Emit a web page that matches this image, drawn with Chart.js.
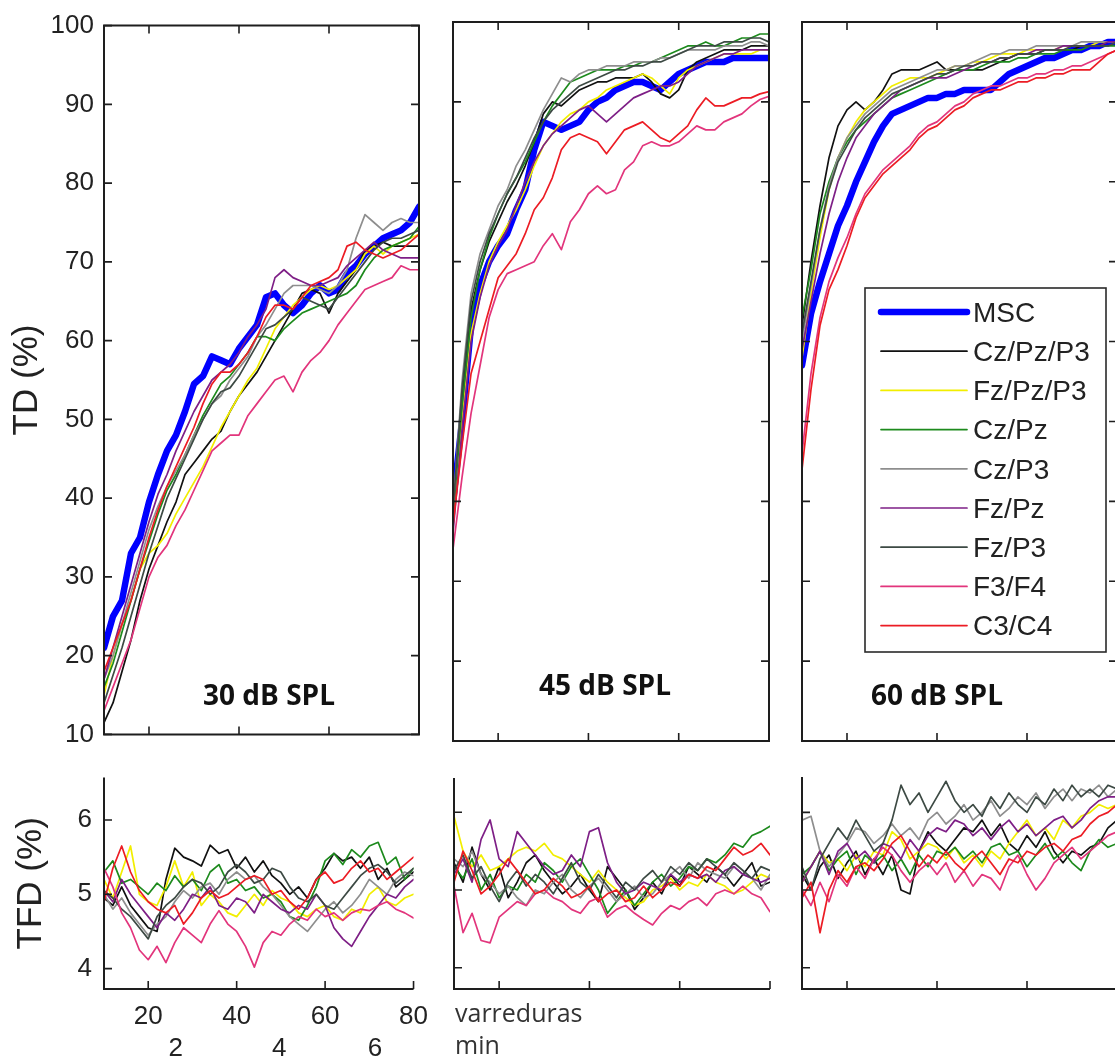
<!DOCTYPE html>
<html><head><meta charset="utf-8">
<script src="https://cdn.jsdelivr.net/npm/chart.js@4.4.1/dist/chart.umd.min.js"></script>
<style>
html,body{margin:0;padding:0;background:#fff;width:1115px;height:1063px;overflow:hidden;position:relative;}
canvas{position:absolute;}
</style></head><body>
<canvas id="t1" width="440" height="760" style="left:0;top:0"></canvas>
<canvas id="t2" width="340" height="760" style="left:440px;top:0"></canvas>
<canvas id="t3" width="340" height="760" style="left:790px;top:0"></canvas>
<canvas id="b1" width="440" height="313" style="left:0;top:750px"></canvas>
<canvas id="b2" width="340" height="313" style="left:440px;top:750px"></canvas>
<canvas id="b3" width="340" height="313" style="left:790px;top:750px"></canvas>
<script>
// ---------- DATA ----------
const sweeps = [10,12,14,16,18,20,22,24,26,28,30,32,34,36,38,40,42,44,46,48,50,52,54,56,58,60,62,64,66,68,70,72,74,76,78,80];
const sweepTicks = [20,40,60,80];
const minuteTickSweeps = [26.2,49.6,71.3];
const minuteLabels = ['2','4','6'];
const tdTicks = [10,20,30,40,50,60,70,80,90,100];
const tfdTicks = [4,5,6];
const seriesNames = ['MSC','Cz/Pz/P3','Fz/Pz/P3','Cz/Pz','Cz/P3','Fz/Pz','Fz/P3','F3/F4','C3/C4'];
const panelTitles = ['30 dB SPL','45 dB SPL','60 dB SPL'];

// TD (%) 30 dB SPL
const td30_MSC    = [21,25,27,33,35,39.5,43,46,48,51,54.5,55.5,58,57.5,57,59,60.5,62,65.5,66,64.5,63.5,64.5,66,67,66,66.5,68.5,69.5,71,72,73,73.5,74,75,77];
const td30_CzPzP3 = [11.5,14,18,22,27,31,34,37,39.5,43,44.5,46,47.5,48.5,51,53,54.5,56,58,60,62,64,66,66.5,66,63.5,66,67.5,69,71.5,72,72.5,72,72,72,72];
const td30_FzPzP3 = [15,20,24,27,31,33,34,35.5,38,40,42,44,46.5,49,51,53,55,56.5,59,61.5,63,64.5,65.5,66.5,67,66.5,67,68,69,71,72,71,72,72.5,73,73.5];
const td30_CzPz   = [16,19,23,27,31,34.5,38,41,43,45.5,48,50.5,52.5,54.5,55.5,57,58.5,60.5,60.5,60,61.5,62.5,63.5,64,64.5,65,65.5,66,67,69,70.5,71.5,72,72.5,73,74.5];
const td30_CzP3   = [17,20,24,28,32,36,39,41.5,43.5,45.5,48,50,52,53,55,56.5,58,60.5,62,64,66,67,67,67,66.5,66,67,69,73,76,75,74,75,75.5,75,75];
const td30_FzPz   = [17,21,25,29,33,37,40.5,43,46,48.5,51,53,55,56,57,58.5,60.5,62,64,68,69,68,67.5,67,67,67.5,68,69.5,70.5,71.5,72.5,71.5,71,70.5,70.5,70.5];
const td30_FzP3   = [14,17.5,21,25,29,33,36.5,40,42.5,45,47.5,50,52,53.5,54,55.5,57.5,59.5,61.5,62,63,64,65.5,65,64.5,64,65.5,67,68.5,70,71.5,72.5,73,73,73.5,74];
const td30_F3F4   = [13,16,19,22,26,30,32.5,34,36.5,38.5,41,43.5,46,47,48,48,50.5,52,53.5,55,55.5,53.5,56,57.5,58.5,60,62,63.5,65,66.5,67,67.5,68,69.5,69,69];
const td30_C3C4   = [18,21,24,27,31,35,38.5,41.5,44,46.5,49,52,54.5,56,56,57,58.5,60.5,63,64.5,64.5,64,65.5,67,67.5,68,69,72,72.5,71.5,71,70.5,71,71.5,72.5,73.5];

// TD (%) 45 dB SPL
const td45_MSC    = [40,50,62,67,70,72,73.5,76.5,79,84,87.5,87,86.5,87,87.5,89,90,90.5,91.5,92,92.5,92.5,92,91.5,92.5,93.5,94,94.5,95,95,95,95.5,95.5,95.5,95.5,95.5];
const td45_CzPzP3 = [38,53,64,69,72.5,75,77.5,79.5,82,85,88.5,90,89.5,90.5,91.5,92,92.5,92.5,93,93,93,93.5,92.5,91,90.5,91.5,94,95,95.5,96,96.5,96.5,96.5,97,97,97];
const td45_FzPzP3 = [37,50,61,66,70,72.5,74.5,76.5,79,82,84.5,86,87.5,88.5,89,90,90.5,91.5,92,92.5,93,93.5,93,92,91,93,94,94.5,95,95.5,96,96,96,96,96.5,96.5];
const td45_CzPz   = [38,52,63,69,73,76,78.5,80.5,82.5,85,87.5,89.5,91,92.5,93,93.5,94,94,94,94.5,94.5,95,95,95.5,96,96.5,97,97,97.5,97,97,97.5,98,98,98.5,98.5];
const td45_CzP3   = [39,55,66,71,74,77,79,82,84,86.5,89,91,93,92.5,93.5,94,94,94.5,94.5,94.5,95,95,95,95.5,95.5,96,96.5,96.5,96.5,96.5,97,97,97,97.5,97.5,97];
const td45_FzPz   = [36,49,60,65.5,69.5,72,74,77,80,82.5,84.5,86,87,88,89,89.5,88.5,87.5,88.5,89.5,90.5,91,91.5,92,92,92.5,93.5,94.5,95,95.5,96,96,96.5,96.5,96.5,96.5];
const td45_FzP3   = [39,54,65,70,73.5,76,78.5,80.5,83,85.5,87.5,89,90,91,92,92.5,93,93.5,94,94,94.5,94.5,95,95,95.5,96,96.5,97,97,97,97.5,97.5,97.5,98,98,97.5];
const td45_F3F4   = [34,43,51,57,63,66.5,68.5,69,69.5,70,72,73.5,71.5,75,76.5,78.5,79.5,78.5,79,81.5,82.5,84.5,85,84.5,84.5,85,86,87,86.5,86.5,87.5,88,88.5,89.5,90.3,90.7];
const td45_C3C4   = [37,47,56,60,64,68,69.5,71,73.5,76.5,78,80.5,84,85.5,86,85.5,85,83.5,85,86.5,87,87.5,86.5,85.5,85,86,87,89,90.5,89.5,89.5,90,90.5,90.5,91,91.3];

// TD (%) 60 dB SPL
const td60_MSC    = [57,63.5,67.5,71,74.5,77,80,82.5,85,87,88.5,89,89.5,90,90.5,90.5,91,91,91.5,91.5,91.5,91.5,92.5,93.5,94,94.5,95,95.5,95.5,96,96.5,96.5,97,97,97.5,97.5];
const td60_CzPzP3 = [62,70,77,83,87,89,90,89,90,91.5,93.5,94,94,94,94.5,95,94,94,94,94,94,94.5,95,95.5,96,96,96,96.5,96.5,96.5,96.5,97,97,97,97.5,97.5];
const td60_FzPzP3 = [58,66,73,79,83,85.5,87.5,89,90,91,92,92.5,93,93,93,93.5,94,94.5,94.5,95,95,95.5,96,96,96,96.5,96.5,96.5,96.5,97,97,97,97,97.5,97.5,97.5];
const td60_CzPz   = [63,69,76,80,83,85,86.5,87.5,88.5,89.5,90.5,91,91.5,92,92.5,93,93.5,94,94,94,94.5,95,95,95,95.5,95.5,96,96,96,96.5,96.5,96.5,97,97,97,97];
const td60_CzP3   = [60,67,74,79.5,83,85.5,87,88.5,89.5,90.5,91.5,92,92.5,93,93.5,94,94,94.5,94.5,95,95.5,96,96,96.5,96.5,96.5,97,97,97,97,97,97.5,97.5,97.5,97.5,97.5];
const td60_FzPz   = [59,65,71,76,80,83,85.5,87,88.5,89.5,90.5,91.5,92,92.5,93,93,93,93.5,94,94.5,95,95,95.5,95.5,96,96,96.5,96.5,96.5,97,97,97,97,97,97.5,97.5];
const td60_FzP3   = [61,67.5,74,79,82.5,84.5,86.5,88,89,90,91,91.5,92,92.5,93,93.5,93.5,94,94.5,94.5,95,95,95.5,95.5,96,96,96,96.5,96.5,96.5,97,97,97,97,97,97.5];
const td60_F3F4   = [46,56,63,67.5,70.5,73,76,78.5,80,81.5,82.5,83.5,84.5,86,87,87.5,88.5,89.5,90,91,91.5,92,92,92.5,93,93,93.5,93.5,94,94,94.5,94.5,95,95.5,96,96.5];
const td60_C3C4   = [44,54,62,66.5,69,72,75.5,78,79.5,81,82,83,84,85.5,86.5,87,88,89,89.5,90.5,91,91.5,91.5,92,92.5,92.5,93,93,93.5,93.5,94,94,94,95,96,96.5];

// TFD (%) 30 dB SPL
const tfd30_CzPzP3 = [4.95,4.85,5.1,4.85,4.7,4.55,4.5,5.2,5.62,5.5,5.45,5.38,5.66,5.55,5.6,5.35,5.5,5.3,5.45,5.25,5.15,5.0,5.1,4.95,5.2,5.35,5.55,5.45,5.5,5.35,5.5,5.2,5.35,5.1,5.2,5.3];
const tfd30_FzPzP3 = [5.2,4.95,5.3,5.65,5.0,4.9,4.85,5.1,5.45,5.1,5.3,4.85,5.0,4.9,4.75,4.7,4.85,5.0,4.85,5.05,4.95,4.9,4.75,4.7,4.8,4.85,4.7,4.65,4.8,4.75,5.0,5.1,4.9,4.85,4.95,5.0];
const tfd30_CzPz   = [5.3,5.45,5.15,5.2,5.1,5.0,5.15,5.05,5.25,5.1,5.2,5.05,5.3,5.4,5.15,5.2,5.05,5.1,4.95,5.0,4.9,4.7,4.65,4.85,5.1,5.45,5.55,5.4,5.6,5.5,5.65,5.7,5.4,5.5,5.2,5.35];
const tfd30_CzP3   = [5.0,4.8,4.95,4.75,4.6,4.45,4.6,4.7,4.9,5.05,4.95,5.1,5.15,5.0,5.2,5.3,5.2,5.25,5.1,5.0,4.85,4.7,4.6,4.5,4.65,4.8,4.9,4.75,4.85,5.0,5.2,5.1,5.0,5.2,5.3,5.25];
const tfd30_FzPz   = [5.05,4.9,5.2,5.0,4.85,4.7,4.55,4.75,4.65,4.8,5.0,4.95,5.1,4.85,4.8,4.95,4.9,4.75,5.0,4.9,4.8,4.75,4.85,4.8,5.0,4.85,4.55,4.4,4.3,4.5,4.7,4.85,5.0,4.95,5.1,5.2];
const tfd30_FzP3   = [5.05,4.95,4.8,4.7,4.55,4.4,4.7,4.85,4.95,5.1,5.2,5.15,5.0,5.1,5.3,5.4,5.3,5.15,5.2,5.35,5.3,5.1,4.95,4.9,5.0,4.85,4.8,4.95,5.1,5.25,5.35,5.4,5.3,5.15,5.25,5.35];
const tfd30_F3F4   = [5.35,5.1,4.75,4.55,4.25,4.12,4.3,4.08,4.35,4.55,4.45,4.35,4.6,4.78,4.6,4.5,4.3,4.02,4.35,4.5,4.45,4.6,4.7,4.65,4.8,4.7,4.75,4.65,4.75,4.8,4.78,4.85,4.9,4.8,4.75,4.68];
const tfd30_C3C4   = [4.9,5.35,5.65,5.3,5.05,4.9,4.8,4.75,4.85,4.6,4.75,4.95,5.05,4.95,5.0,5.1,5.2,5.25,5.2,5.0,5.05,4.9,4.8,4.95,5.2,5.3,5.15,5.2,5.35,5.45,5.3,5.35,5.2,5.3,5.4,5.5];

// TFD (%) 45 dB SPL
const tfd45_CzPzP3 = [5.35,5.1,5.55,5.2,5.0,5.3,4.9,5.1,5.35,5.45,5.25,5.1,4.95,5.05,5.2,5.0,4.85,5.3,5.15,5.0,4.75,4.9,5.1,4.95,5.2,5.05,5.3,5.2,5.1,5.3,5.2,5.05,5.2,5.35,5.05,5.1];
const tfd45_FzPzP3 = [5.95,5.5,5.3,5.45,5.25,5.3,5.4,5.5,5.55,5.5,5.6,5.45,5.4,5.3,5.2,5.1,5.25,5.1,5.0,4.9,4.8,4.85,5.0,5.05,5.15,5.0,5.1,5.05,5.2,5.1,5.05,4.95,5.0,5.1,5.2,5.15];
const tfd45_CzPz   = [5.3,5.15,5.4,5.0,5.2,4.9,5.05,5.0,5.2,5.1,5.35,5.25,5.1,5.3,5.4,5.2,5.0,4.7,4.85,5.0,4.8,4.95,5.1,5.2,5.05,5.15,5.3,5.25,5.4,5.35,5.45,5.6,5.55,5.7,5.75,5.82];
const tfd45_CzP3   = [5.4,5.3,5.5,5.2,5.1,4.95,5.05,4.9,4.8,5.0,4.95,5.1,5.2,5.0,4.9,5.05,5.15,5.0,4.85,4.95,5.05,4.9,4.95,5.1,5.2,5.3,5.15,5.35,5.25,5.2,5.15,5.3,5.2,5.15,5.0,5.2];
const tfd45_FzPz   = [5.2,5.4,5.1,5.65,5.9,5.4,5.3,5.75,5.6,5.45,5.3,5.2,5.25,5.45,5.3,5.75,5.8,5.35,5.1,4.95,5.0,5.1,5.05,5.0,5.2,5.1,5.2,5.15,5.2,5.1,5.25,5.3,5.2,5.15,5.1,5.15];
const tfd45_FzP3   = [5.25,5.45,5.15,5.3,5.05,4.85,5.1,5.25,5.05,5.2,5.1,4.95,5.15,5.35,5.1,5.0,5.2,5.05,4.9,5.1,5.0,5.15,5.25,5.1,5.3,5.2,5.35,5.25,5.4,5.3,5.2,5.35,5.25,5.15,5.3,5.25];
const tfd45_F3F4   = [5.05,4.45,4.7,4.35,4.32,4.65,4.75,4.85,4.8,4.95,5.0,4.9,4.85,4.75,4.7,4.85,4.9,4.65,4.75,4.8,4.7,4.62,4.55,4.7,4.8,4.75,4.85,4.9,4.8,4.95,5.0,4.95,5.05,4.95,4.9,4.72];
const tfd45_C3C4   = [5.1,5.5,5.25,4.95,5.05,5.2,5.4,5.25,5.1,4.95,5.0,5.15,5.05,4.9,4.95,5.05,4.85,4.95,5.0,4.85,4.9,5.05,4.9,5.0,5.1,5.05,5.2,5.15,5.3,5.25,5.4,5.55,5.45,5.5,5.6,5.45];

// TFD (%) 60 dB SPL
const tfd60_CzPzP3 = [5.2,5.0,5.3,5.45,5.15,5.35,5.5,5.2,5.4,5.2,5.45,5.0,4.95,5.5,5.75,5.6,5.5,5.65,5.8,5.75,5.9,5.7,5.85,5.6,5.5,5.7,5.55,5.75,5.5,5.35,5.5,5.45,5.55,5.6,5.8,5.9];
const tfd60_FzPzP3 = [5.1,5.3,5.5,5.35,5.4,5.25,5.45,5.3,5.5,5.45,5.75,5.65,5.4,5.5,5.6,5.55,5.4,5.55,5.35,5.45,5.3,5.5,5.4,5.6,5.75,5.9,5.7,5.8,5.65,5.9,5.8,5.95,6.0,6.1,6.05,6.1];
const tfd60_CzPz   = [5.2,5.3,5.5,5.25,5.4,5.5,5.2,5.45,5.35,5.45,5.25,5.4,5.2,5.45,5.3,5.5,5.45,5.55,5.4,5.5,5.35,5.55,5.6,5.45,5.5,5.3,5.45,5.6,5.4,5.5,5.35,5.25,5.5,5.65,5.55,5.6];
const tfd60_CzP3   = [5.9,5.95,5.5,5.3,5.45,5.6,5.8,5.75,5.6,5.7,5.85,5.7,5.8,5.65,5.9,6.0,5.85,5.95,6.1,5.9,6.0,6.15,5.95,6.05,6.2,6.1,6.25,6.05,6.2,6.3,6.15,6.3,6.25,6.35,6.2,6.3];
const tfd60_FzPz   = [5.1,5.3,5.5,5.2,5.5,5.6,5.4,5.5,5.35,5.6,5.55,5.4,5.65,5.5,5.7,5.8,5.75,5.9,5.85,5.7,5.8,5.65,5.8,5.9,5.75,5.85,5.7,5.8,5.9,5.95,5.8,5.9,6.05,6.15,6.2,6.2];
const tfd60_FzP3   = [5.3,5.0,5.4,5.6,5.8,5.65,5.9,5.7,5.5,5.6,5.9,6.35,6.1,6.25,6.0,6.2,6.4,6.15,6.0,6.1,5.95,6.2,6.05,6.25,6.1,6.0,6.2,6.1,6.3,6.15,6.35,6.2,6.3,6.2,6.35,6.3];
const tfd60_F3F4   = [5.0,4.8,5.1,4.85,5.2,5.05,5.3,5.15,5.4,5.55,5.45,5.25,5.1,5.25,5.35,5.2,5.35,5.1,5.25,5.05,5.2,5.15,5.0,5.3,5.45,5.2,5.0,5.15,5.35,5.45,5.55,5.4,5.5,5.6,5.7,5.75];
const tfd60_C3C4   = [4.9,5.1,4.45,5.0,5.25,5.1,5.3,5.35,5.25,5.4,5.6,5.7,5.5,5.3,5.45,5.35,5.5,5.35,5.25,5.4,5.5,5.35,5.2,5.4,5.35,5.5,5.45,5.55,5.6,5.5,5.65,5.7,5.85,5.95,6.0,6.1];

// ---------- STYLE ----------
const FONT = "'Liberation Sans', Arial, sans-serif";
const TEXT = '#222222';
const STYLE = {
  'MSC':      {color:'#0000ff', width:6.5},
  'Cz/Pz/P3': {color:'#111111', width:1.7},
  'Fz/Pz/P3': {color:'#f2ee00', width:1.7},
  'Cz/Pz':    {color:'#1d8a1d', width:1.7},
  'Cz/P3':    {color:'#8e8e8e', width:1.7},
  'Fz/Pz':    {color:'#7e1f86', width:1.7},
  'Fz/P3':    {color:'#3d4a44', width:1.7},
  'F3/F4':    {color:'#e2357c', width:1.7},
  'C3/C4':    {color:'#ec1c24', width:1.7}
};

function makeDatasets(names, arrays) {
  return names.map((name, i) => ({
    label: name,
    data: arrays[i].map((v, k) => ({x: sweeps[k], y: v})),
    borderColor: STYLE[name].color,
    backgroundColor: STYLE[name].color,
    borderWidth: STYLE[name].width,
    pointRadius: 0,
    tension: 0,
    fill: false,
    borderJoinStyle: 'round',
    borderCapStyle: 'round',
    order: 20 - i
  }));
}

// frame + inward ticks (MATLAB style)
const framePlugin = {
  id: 'frame',
  afterDatasetsDraw(chart, args, o) {
    const {ctx, chartArea: a} = chart;
    const xs = chart.scales.x, ys = chart.scales.y;
    ctx.save();
    ctx.strokeStyle = '#1e1e1e';
    ctx.lineWidth = 2;
    ctx.beginPath();
    if (o.box) {
      ctx.rect(a.left, a.top, a.right - a.left, a.bottom - a.top);
    } else {
      ctx.moveTo(a.left, a.top); ctx.lineTo(a.left, a.bottom); ctx.lineTo(a.right, a.bottom);
    }
    ctx.stroke();
    ctx.lineWidth = 1.6;
    ctx.beginPath();
    const L = 8;
    (o.xTicks || []).forEach(v => {
      const px = xs.getPixelForValue(v);
      ctx.moveTo(px, a.bottom); ctx.lineTo(px, a.bottom - L);
      if (o.box) { ctx.moveTo(px, a.top); ctx.lineTo(px, a.top + L); }
    });
    (o.yTicks || []).forEach(v => {
      const py = ys.getPixelForValue(v);
      ctx.moveTo(a.left, py); ctx.lineTo(a.left + L, py);
      if (o.box) { ctx.moveTo(a.right, py); ctx.lineTo(a.right - L, py); }
    });
    ctx.stroke();
    ctx.restore();
  }
};

// free text (panel titles, axis captions)
const textPlugin = {
  id: 'freeText',
  afterDraw(chart, args, o) {
    const ctx = chart.ctx;
    (o.items || []).forEach(it => {
      ctx.save();
      ctx.font = it.font;
      ctx.fillStyle = it.color || TEXT;
      ctx.textAlign = it.align || 'center';
      ctx.textBaseline = it.baseline || 'middle';
      ctx.fillText(it.text, it.x, it.y);
      ctx.restore();
    });
  }
};

// boxed legend inside the plot (reads the datasets)
const boxLegendPlugin = {
  id: 'boxLegend',
  afterDraw(chart, args, o) {
    if (!o.show) return;
    const ctx = chart.ctx;
    ctx.save();
    ctx.fillStyle = '#ffffff';
    ctx.fillRect(o.left, o.top, o.right - o.left, o.bottom - o.top);
    ctx.strokeStyle = '#2a2a2a';
    ctx.lineWidth = 1.6;
    ctx.strokeRect(o.left, o.top, o.right - o.left, o.bottom - o.top);
    ctx.font = '28px ' + FONT;
    ctx.textBaseline = 'middle';
    ctx.textAlign = 'left';
    chart.data.datasets.forEach((ds, i) => {
      const y = o.firstRow + i * o.rowGap;
      ctx.strokeStyle = ds.borderColor;
      ctx.lineWidth = ds.borderWidth;
      ctx.lineCap = 'round';
      ctx.beginPath();
      ctx.moveTo(o.lineX0, y); ctx.lineTo(o.lineX1, y);
      ctx.stroke();
      ctx.fillStyle = '#222';
      ctx.fillText(ds.label, o.textX, y + 2);
    });
    ctx.restore();
  }
};

function hiddenAxis(min, max) {
  return {type: 'linear', min, max, display: false};
}
function noGrid() { return {display: false, drawTicks: false}; }

function topChart(id, arrays, opts) {
  const scales = {
    x: hiddenAxis(10, 80),
    y: opts.showY ? {
      type: 'linear', min: 10, max: 100, position: 'left',
      afterBuildTicks: s => { s.ticks = tdTicks.map(v => ({value: v})); },
      afterFit: s => { s.width = opts.yWidth; },
      grid: noGrid(), border: {display: false},
      ticks: {padding: 10, font: {family: FONT, size: 26}, color: TEXT},
      title: {display: true, text: 'TD (%)', font: {family: FONT, size: 35}, color: TEXT, padding: {top: 6, bottom: 0}}
    } : hiddenAxis(10, 100)
  };
  return new Chart(document.getElementById(id), {
    type: 'line',
    data: {datasets: makeDatasets(seriesNames, arrays)},
    options: {
      responsive: false, animation: false, devicePixelRatio: 1, events: [],
      layout: {padding: opts.padding, autoPadding: false},
      scales,
      plugins: {
        legend: {display: false}, tooltip: {enabled: false},
        frame: {box: true, xTicks: sweepTicks, yTicks: tdTicks},
        freeText: {items: [{text: opts.title, x: opts.titleX, y: opts.titleY, font: 'bold 28px "Open Sans", sans-serif', color: '#111'}]},
        boxLegend: opts.legend || {show: false}
      }
    },
    plugins: [framePlugin, textPlugin, boxLegendPlugin]
  });
}

function bottomChart(id, arrays, opts) {
  const scales = opts.showAxes ? {
    x: {
      type: 'linear', min: 10, max: 80, position: 'bottom', weight: 0,
      afterBuildTicks: s => { s.ticks = sweepTicks.map(v => ({value: v})); },
      afterFit: s => { s.height = 36; },
      grid: noGrid(), border: {display: false},
      ticks: {padding: 12, maxRotation: 0, autoSkip: false, font: {family: FONT, size: 26}, color: TEXT}
    },
    xMin: {
      type: 'linear', min: 10, max: 80, position: 'bottom', weight: 1,
      afterBuildTicks: s => { s.ticks = minuteTickSweeps.map(v => ({value: v})); },
      afterFit: s => { s.height = 38; },
      grid: noGrid(), border: {display: false},
      ticks: {padding: 8, maxRotation: 0, autoSkip: false, font: {family: FONT, size: 26}, color: TEXT,
              callback: (v, i) => minuteLabels[i]}
    },
    y: {
      type: 'linear', min: 3.726, max: opts.yMax, position: 'left',
      afterBuildTicks: s => { s.ticks = tfdTicks.map(v => ({value: v})); },
      afterFit: s => { s.width = 104; },
      grid: noGrid(), border: {display: false},
      ticks: {padding: 12, font: {family: FONT, size: 26}, color: TEXT},
      title: {display: true, text: 'TFD (%)', font: {family: FONT, size: 35}, color: TEXT, padding: {top: 10, bottom: 0}}
    }
  } : {x: hiddenAxis(10, 80), y: hiddenAxis(3.726, opts.yMax)};
  return new Chart(document.getElementById(id), {
    type: 'line',
    data: {datasets: makeDatasets(seriesNames.slice(1), arrays)},
    options: {
      responsive: false, animation: false, devicePixelRatio: 1, events: [],
      layout: {padding: opts.padding, autoPadding: false},
      scales,
      plugins: {
        legend: {display: false}, tooltip: {enabled: false},
        frame: {box: false, xTicks: sweepTicks, yTicks: tfdTicks},
        freeText: {items: opts.texts || []},
        boxLegend: {show: false}
      }
    },
    plugins: [framePlugin, textPlugin, boxLegendPlugin]
  });
}

topChart('t1', [td30_MSC, td30_CzPzP3, td30_FzPzP3, td30_CzPz, td30_CzP3, td30_FzPz, td30_FzP3, td30_F3F4, td30_C3C4],
  {showY: true, yWidth: 104, padding: {left: 0, top: 22, right: 21, bottom: 19}, title: panelTitles[0], titleX: 269, titleY: 697});
topChart('t2', [td45_MSC, td45_CzPzP3, td45_FzPzP3, td45_CzPz, td45_CzP3, td45_FzPz, td45_FzP3, td45_F3F4, td45_C3C4],
  {showY: false, padding: {left: 13, top: 22, right: 11, bottom: 19}, title: panelTitles[1], titleX: 165, titleY: 687});
topChart('t3', [td60_MSC, td60_CzPzP3, td60_FzPzP3, td60_CzPz, td60_CzP3, td60_FzPz, td60_FzP3, td60_F3F4, td60_C3C4],
  {showY: false, padding: {left: 12, top: 22, right: 13, bottom: 19}, title: panelTitles[2], titleX: 147, titleY: 697,
   legend: {show: true, left: 75, top: 288, right: 316, bottom: 652, firstRow: 312, rowGap: 39.2, lineX0: 91, lineX1: 177, textX: 183}});

bottomChart('b1', [tfd30_CzPzP3, tfd30_FzPzP3, tfd30_CzPz, tfd30_CzP3, tfd30_FzPz, tfd30_FzP3, tfd30_F3F4, tfd30_C3C4],
  {showAxes: true, yMax: 6.57, padding: {left: 0, top: 18, right: 21, bottom: 0}});
bottomChart('b2', [tfd45_CzPzP3, tfd45_FzPzP3, tfd45_CzPz, tfd45_CzP3, tfd45_FzPz, tfd45_FzP3, tfd45_F3F4, tfd45_C3C4],
  {showAxes: false, yMax: 6.44, padding: {left: 14, top: 28, right: 10, bottom: 74},
   texts: [{text: 'varreduras', x: 15, y: 272, align: 'left', baseline: 'alphabetic', font: '25px "Open Sans", sans-serif', color: '#333'},
           {text: 'min', x: 15, y: 304, align: 'left', baseline: 'alphabetic', font: '25px "Open Sans", sans-serif', color: '#333'}]});
bottomChart('b3', [tfd60_CzPzP3, tfd60_FzPzP3, tfd60_CzPz, tfd60_CzP3, tfd60_FzPz, tfd60_FzP3, tfd60_F3F4, tfd60_C3C4],
  {showAxes: false, yMax: 6.455, padding: {left: 12, top: 27, right: 13, bottom: 74}});
</script>
</body></html>
